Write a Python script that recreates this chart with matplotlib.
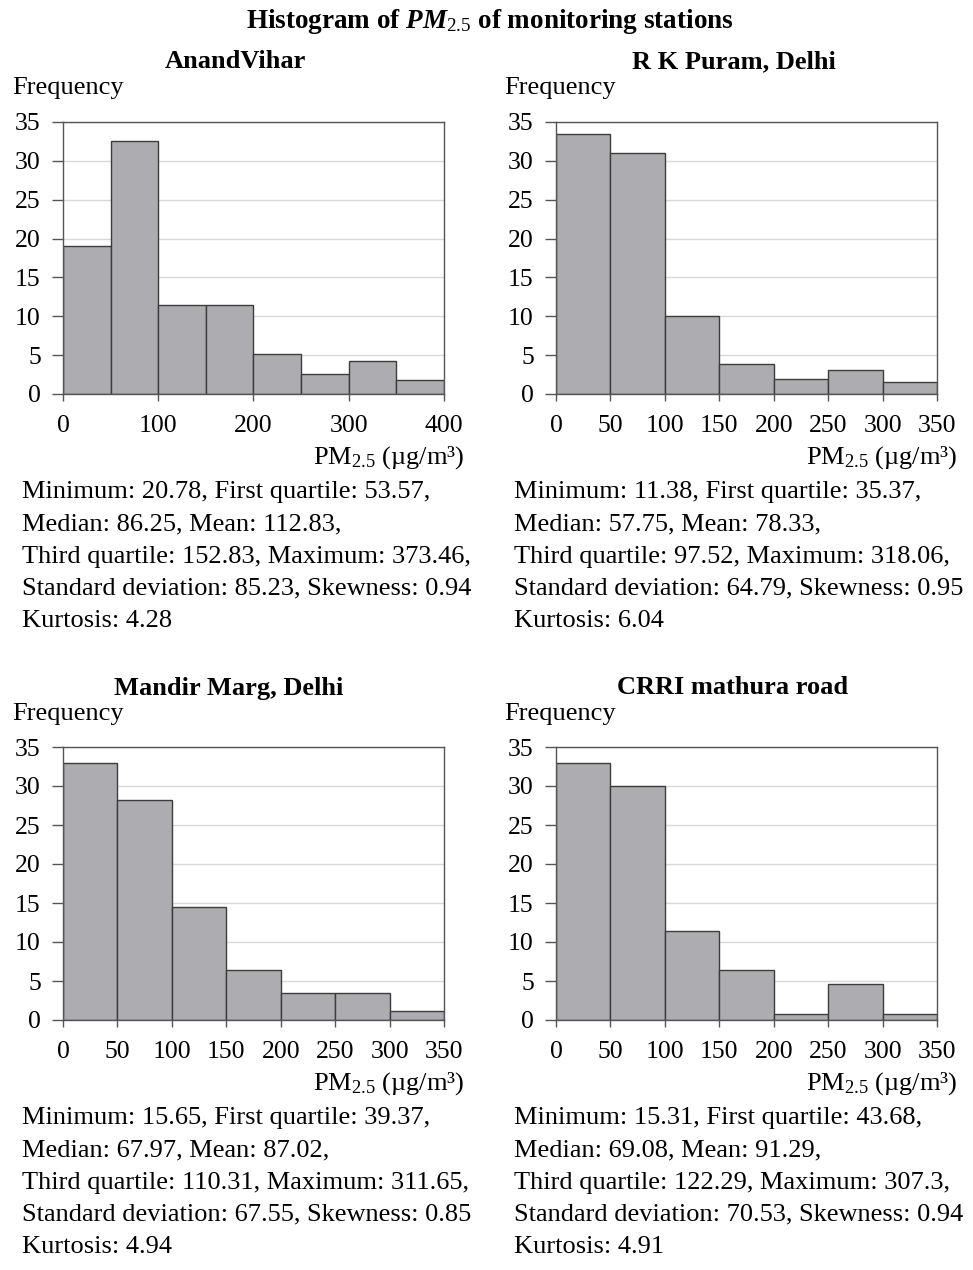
from matplotlib import pyplot as plt
import numpy as np

# 数据：每个站点的直方图（组距50）
stations = ["AnandVihar", "R K Puram, Delhi", "Mandir Marg, Delhi", "CRRI mathura road"]
bin_start = [0, 0, 0, 0]
bin_width = 50
freq_anand = [19.1, 32.6, 11.4, 11.4, 5.2, 2.6, 4.3, 1.8]
freq_rkpuram = [33.5, 31.0, 10.0, 3.9, 1.9, 3.1, 1.5]
freq_mandir = [32.9, 28.2, 14.5, 6.4, 3.5, 3.5, 1.1]
freq_crri = [33.0, 30.0, 11.4, 6.4, 0.8, 4.6, 0.8]
xticks_anand = [0, 100, 200, 300, 400]
xticks_other = [0, 50, 100, 150, 200, 250, 300, 350]
yticks = [0, 5, 10, 15, 20, 25, 30, 35]

stats_anand = ["Minimum: 20.78, First quartile: 53.57,",
               "Median: 86.25, Mean: 112.83,",
               "Third quartile: 152.83, Maximum: 373.46,",
               "Standard deviation: 85.23, Skewness: 0.94",
               "Kurtosis: 4.28"]
stats_rkpuram = ["Minimum: 11.38, First quartile: 35.37,",
                 "Median: 57.75, Mean: 78.33,",
                 "Third quartile: 97.52, Maximum: 318.06,",
                 "Standard deviation: 64.79, Skewness: 0.95",
                 "Kurtosis: 6.04"]
stats_mandir = ["Minimum: 15.65, First quartile: 39.37,",
                "Median: 67.97, Mean: 87.02,",
                "Third quartile: 110.31, Maximum: 311.65,",
                "Standard deviation: 67.55, Skewness: 0.85",
                "Kurtosis: 4.94"]
stats_crri = ["Minimum: 15.31, First quartile: 43.68,",
              "Median: 69.08, Mean: 91.29,",
              "Third quartile: 122.29, Maximum: 307.3,",
              "Standard deviation: 70.53, Skewness: 0.94",
              "Kurtosis: 4.91"]

freqs = [freq_anand, freq_rkpuram, freq_mandir, freq_crri]
xtick_sets = [xticks_anand, xticks_other, xticks_other, xticks_other]
stats_all = [stats_anand, stats_rkpuram, stats_mandir, stats_crri]

plt.rcParams['font.family'] = ['Liberation Serif', 'DejaVu Serif']
plt.rcParams['mathtext.fontset'] = 'custom'
plt.rcParams['mathtext.rm'] = 'Liberation Serif'
plt.rcParams['mathtext.it'] = 'Liberation Serif:italic:bold'
plt.rcParams['mathtext.bf'] = 'Liberation Serif:bold'

W, H = 973, 1270
fig = plt.figure(figsize=(W / 100, H / 100), dpi=100)

def px(x, y):
    return x / W, 1 - y / H

# 轴的位置（像素：左, 上, 右, 下）
boxes = [(63, 122, 444, 394), (556, 122, 937, 394),
         (63, 747, 444, 1020), (556, 747, 937, 1020)]
title_pos = [(235, 62), (734, 62), (229, 688), (733, 688)]
text_left = [22, 514, 22, 514]
fs_tick = 18.5
fs_text = 19
bar_color = '#adacb0'
edge_color = '#3c3c3c'

fig.text(*px(490, 21), "Histogram of $\\mathit{PM}_{\\mathit{2.5}}$ of monitoring stations",
         ha='center', va='center', fontsize=19.5, fontweight='bold')

for k in range(4):
    l, t, r, b = boxes[k]
    ax = fig.add_axes([l / W, 1 - b / H, (r - l) / W, (b - t) / H])
    f = freqs[k]
    lefts = [bin_start[k] + bin_width * i for i in range(len(f))]
    ax.bar(lefts, f, width=bin_width, align='edge', color=bar_color,
           edgecolor=edge_color, linewidth=1, zorder=2)
    ax.set_xlim(0, bin_width * len(f))
    ax.set_ylim(0, 35)
    ax.set_xticks(xtick_sets[k])
    ax.set_yticks(yticks)
    ax.yaxis.grid(True, color='#d9d9d9', linewidth=1, zorder=0)
    ax.set_axisbelow(True)
    for s in ax.spines.values():
        s.set_color('#555555')
        s.set_linewidth(1)
    ax.tick_params(axis='y', direction='out', length=8, width=1, color='#555555',
                   pad=8, labelsize=fs_tick)
    ax.tick_params(axis='x', direction='out', length=5, width=1, color='#555555',
                   pad=10, labelsize=fs_tick)

    tx, ty = title_pos[k]
    fig.text(*px(tx, ty), stations[k], ha='center', va='center',
             fontsize=19, fontweight='bold')
    fig.text(*px(text_left[k] - 10, ty + 26), "Frequency", ha='left', va='center',
             fontsize=fs_text)
    fig.text(*px(r + 20, b + 64), "$\\mathrm{PM}_{2.5}$ (µg/m³)", ha='right', va='center',
             fontsize=fs_text)
    for i, line in enumerate(stats_all[k]):
        fig.text(*px(text_left[k], b + 98 + 32.3 * i), line, ha='left', va='center',
                 fontsize=fs_text)

fig.savefig('out.png', dpi=100)
